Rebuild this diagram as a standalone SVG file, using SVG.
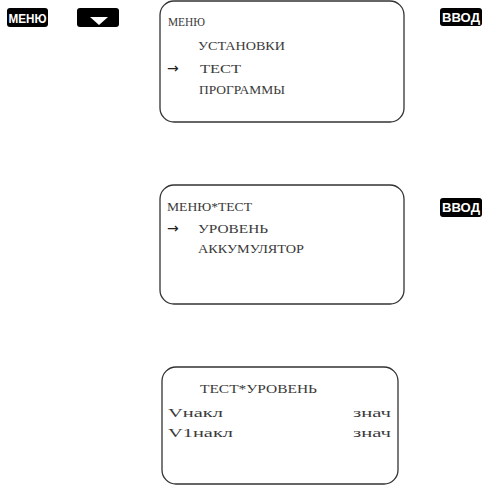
<svg xmlns="http://www.w3.org/2000/svg" width="483" height="485" viewBox="0 0 483 485">
<style>
.scr{fill:#fff;stroke:#333;stroke-width:1.3}
.t{font-family:"Liberation Serif","Times New Roman",serif;font-size:13.5px;fill:#3a3a3a}
.ar{font-family:"DejaVu Sans",sans-serif;font-size:14px;fill:#222}
.btn{fill:#000}
.bt{font-family:"Liberation Sans",Arial,sans-serif;font-weight:bold;font-size:12.5px;fill:#fff}
</style>
<rect width="483" height="485" fill="#fff"/>
<g id="btn-menu"><rect class="btn" x="7" y="8" width="41" height="19" rx="3"/><text class="bt" x="27.5" y="22.5" text-anchor="middle" textLength="38" lengthAdjust="spacingAndGlyphs">МЕНЮ</text></g>
<g id="btn-down"><rect class="btn" x="77" y="8" width="42" height="19" rx="3"/><polygon points="90,17 108,17 99,25" fill="#fff"/></g>
<g id="btn-enter1"><rect class="btn" x="440" y="8" width="42" height="18" rx="3"/><text class="bt" x="461" y="21.5" text-anchor="middle" textLength="38" lengthAdjust="spacingAndGlyphs">ВВОД</text></g>
<g id="btn-enter2"><rect class="btn" x="440" y="198" width="42" height="19" rx="3"/><text class="bt" x="461" y="212" text-anchor="middle" textLength="38" lengthAdjust="spacingAndGlyphs">ВВОД</text></g>
<g id="screen1">
<rect class="scr" x="160" y="1" width="244" height="121" rx="14"/>
<text class="t" x="168" y="26" textLength="37" lengthAdjust="spacingAndGlyphs">МЕНЮ</text>
<text class="t" x="198" y="50" textLength="87" lengthAdjust="spacingAndGlyphs">УСТАНОВКИ</text>
<text class="ar" x="167" y="73">→</text>
<text class="t" x="200" y="73" textLength="41" lengthAdjust="spacingAndGlyphs">ТЕСТ</text>
<text class="t" x="199" y="94" textLength="86" lengthAdjust="spacingAndGlyphs">ПРОГРАММЫ</text>
</g>
<g id="screen2">
<rect class="scr" x="160" y="185" width="244" height="119" rx="14"/>
<text class="t" x="167" y="211" textLength="85" lengthAdjust="spacingAndGlyphs">МЕНЮ*ТЕСТ</text>
<text class="ar" x="167" y="233">→</text>
<text class="t" x="198" y="233" textLength="70" lengthAdjust="spacingAndGlyphs">УРОВЕНЬ</text>
<text class="t" x="198" y="253" textLength="106" lengthAdjust="spacingAndGlyphs">АККУМУЛЯТОР</text>
</g>
<g id="screen3">
<rect class="scr" x="162" y="367" width="236" height="117" rx="14"/>
<text class="t" x="200" y="393" textLength="117" lengthAdjust="spacingAndGlyphs">ТЕСТ*УРОВЕНЬ</text>
<text class="t" x="168" y="417" textLength="55" lengthAdjust="spacingAndGlyphs">Vнакл</text>
<text class="t" x="353" y="417" textLength="38" lengthAdjust="spacingAndGlyphs">знач</text>
<text class="t" x="168" y="437" textLength="65" lengthAdjust="spacingAndGlyphs">V1накл</text>
<text class="t" x="353" y="437" textLength="38" lengthAdjust="spacingAndGlyphs">знач</text>
</g>
<g id="connectors"></g>
</svg>
